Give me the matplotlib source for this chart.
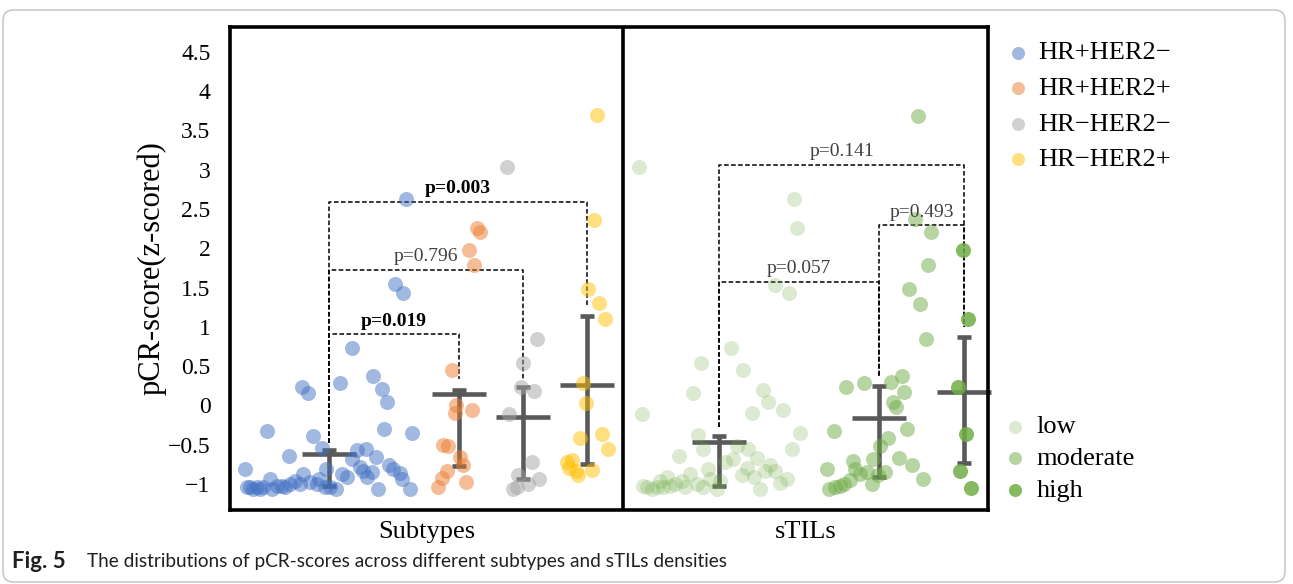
import matplotlib
matplotlib.use('Agg')
import matplotlib.pyplot as plt
from matplotlib.patches import FancyBboxPatch

plt.rcParams['font.family'] = ['Liberation Serif', 'DejaVu Serif']

# ---- subtype groups (jittered x, pCR-score) ----
her2neg_hrpos_x = [0.15, 0.37, 0.59, 0.72, 0.78, 0.83, 0.92, 1.10, 1.22, 1.43, 1.52, 1.57, 1.54, 1.82,
                   1.46, 1.36, 1.27, 1.22, 1.30, 1.33, 1.42, 1.59, 1.63, 1.70, 1.72, 1.80, 1.48, 1.37,
                   1.17, 1.12, 1.06, 0.96, 0.95, 0.87, 0.80, 0.73, 0.65, 0.60, 0.70, 0.52, 0.47, 0.40,
                   0.42, 0.33, 0.27, 0.20, 0.17, 0.23, 0.30, 0.55, 1.00, 0.89, 1.76, 1.65, 1.73]
her2neg_hrpos_y = [-0.81, -0.33, -0.64, 0.23, 0.16, -0.39, -0.54, 0.29, 0.73, 0.38, 0.21, 0.05, -0.30, -0.35,
                   -0.66, -0.56, -0.57, -0.68, -0.78, -0.83, -0.85, -0.76, -0.81, -0.86, -0.93, -1.06, -1.06, -0.91,
                   -0.91, -0.87, -1.06, -0.81, -1.04, -1.00, -0.98, -0.87, -0.96, -1.00, -1.00, -1.02, -1.02, -0.93,
                   -1.06, -1.04, -1.04, -1.04, -1.04, -1.06, -1.06, -1.04, -1.04, -0.93, 2.62, 1.54, 1.43]

her2pos_hrpos_x = [2.47, 2.50, 2.39, 2.44, 2.22, 2.26, 2.42, 2.25, 2.13, 2.18, 2.30, 2.33, 2.17, 2.12, 2.08, 2.36]
her2pos_hrpos_y = [2.26, 2.20, 1.98, 1.79, 0.45, 0.01, -0.06, -0.10, -0.50, -0.52, -0.65, -0.76, -0.84, -0.92, -1.04, -0.98]

her2neg_hrneg_x = [2.77, 3.07, 2.93, 2.91, 3.04, 2.79, 3.02, 2.88, 3.09, 2.98, 2.83, 2.87]
her2neg_hrneg_y = [3.03, 0.84, 0.54, 0.23, 0.18, -0.11, -0.72, -0.89, -0.93, -1.00, -1.06, -1.04]

her2pos_hrneg_x = [3.67, 3.64, 3.58, 3.69, 3.75, 3.53, 3.56, 3.50, 3.72, 3.78, 3.37, 3.42, 3.39, 3.46, 3.48, 3.62]
her2pos_hrneg_y = [3.69, 2.36, 1.48, 1.30, 1.10, 0.29, 0.03, -0.42, -0.36, -0.55, -0.72, -0.70, -0.79, -0.83, -0.89, -0.82]

# ---- sTILs density groups ----
til_low_x = [4.09, 5.64, 5.67, 5.45, 5.59, 5.01, 4.71, 5.13, 4.63, 5.33, 5.38, 5.22, 5.53, 4.12, 5.70, 5.62,
             4.68, 4.49, 4.73, 5.07, 4.95, 5.03, 5.18, 5.27, 5.17, 5.12, 5.40, 5.35, 5.45, 4.78, 5.24, 5.57,
             5.50, 5.30, 4.80, 4.73, 4.87, 4.60, 4.55, 4.67, 4.52, 4.45, 4.37, 4.40, 4.30, 4.33, 4.27, 4.22,
             4.17, 4.13, 4.90]
til_low_y = [3.03, 2.62, 2.26, 1.53, 1.43, 0.73, 0.54, 0.45, 0.16, 0.20, 0.05, -0.10, -0.06, -0.11, -0.35, -0.56,
             -0.37, -0.64, -0.56, -0.52, -0.72, -0.68, -0.56, -0.67, -0.79, -0.89, -0.76, -0.83, -0.84, -0.81, -0.91, -0.93,
             -0.99, -1.06, -0.93, -1.04, -1.06, -0.87, -1.04, -1.00, -0.96, -1.00, -0.91, -1.02, -0.96, -1.04, -1.04, -1.06,
             -1.04, -1.02, -0.96]

til_mod_x = [6.88, 6.85, 7.01, 6.98, 6.79, 6.90, 6.96, 6.72, 6.61, 6.74, 6.34, 6.16, 6.63, 6.66, 6.77, 6.04,
             6.58, 6.50, 6.69, 6.82, 6.93, 6.43, 6.23, 6.25, 6.30, 6.37, 6.42, 6.55, 6.48, 5.97, 6.20, 6.14,
             6.10, 6.05, 5.99]
til_mod_y = [3.68, 2.37, 2.20, 1.78, 1.48, 1.29, 0.84, 0.38, 0.30, 0.17, 0.29, 0.24, 0.04, -0.02, -0.30, -0.33,
             -0.42, -0.51, -0.67, -0.76, -0.93, -0.68, -0.71, -0.81, -0.87, -0.85, -1.00, -0.85, -0.89, -0.81, -0.95, -1.00,
             -1.02, -1.04, -1.06]

til_high_x = [7.33, 7.38, 7.28, 7.36, 7.30, 7.41]
til_high_y = [1.98, 1.10, 0.23, -0.36, -0.84, -1.05]

subtype_labels = ['HR+HER2\u2212', 'HR+HER2+', 'HR\u2212HER2\u2212', 'HR\u2212HER2+']
subtype_colors = ['#4472C4', '#ED7D31', '#A5A5A5', '#FFC000']
til_labels = ['low', 'moderate', 'high']
til_alphas = [0.25, 0.5, 0.85]

# group summary: centre line and whisker ends
summary_x = [0.99, 2.29, 2.93, 3.57, 4.89, 6.49, 7.34]
summary_mid = [-0.615, 0.14, -0.145, 0.255, -0.47, -0.157, 0.17]
summary_lo = [-1.03, -0.77, -0.93, -0.75, -1.03, -0.91, -0.73]
summary_hi = [-0.573, 0.20, 0.23, 1.14, -0.39, 0.246, 0.87]

# significance brackets
br_x1 = [0.99, 0.99, 0.99, 4.89, 4.89, 6.49]
br_x2 = [2.29, 2.93, 3.57, 7.34, 6.49, 7.34]
br_top = [0.905, 1.72, 2.59, 3.06, 1.57, 2.29]
br_end1 = [-0.48, -0.48, -0.48, -0.28, -0.28, 0.38]
br_end2 = [0.33, 0.33, 1.26, 1.00, 0.38, 1.00]
br_text = ['p=0.019', 'p=0.796', 'p=0.003', 'p=0.141', 'p=0.057', 'p=0.493']
br_bold = [True, False, True, False, False, False]

fig = plt.figure(figsize=(12.93, 5.84), dpi=100)
ax = fig.add_axes([230 / 1293, 1 - 510 / 584, 758 / 1293, 483.5 / 584])

sz = 117
sub_x = [her2neg_hrpos_x, her2pos_hrpos_x, her2neg_hrneg_x, her2pos_hrneg_x]
sub_y = [her2neg_hrpos_y, her2pos_hrpos_y, her2neg_hrneg_y, her2pos_hrneg_y]
sub_handles = []
for xs, ys, c, lab in zip(sub_x, sub_y, subtype_colors, subtype_labels):
    h = ax.scatter(xs, ys, s=sz, color=c, alpha=0.5, linewidths=0, zorder=3, label=lab)
    sub_handles.append(h)

til_x = [til_low_x, til_mod_x, til_high_x]
til_y = [til_low_y, til_mod_y, til_high_y]
til_handles = []
for xs, ys, a, lab in zip(til_x, til_y, til_alphas, til_labels):
    h = ax.scatter(xs, ys, s=sz, color='#70AD47', alpha=a, linewidths=0, zorder=3, label=lab)
    til_handles.append(h)

# whiskers + centre bars
for x, m, lo, hi in zip(summary_x, summary_mid, summary_lo, summary_hi):
    ax.errorbar([x], [m], yerr=[[m - lo], [hi - m]], fmt='none', ecolor='#595959',
                elinewidth=3.3, capsize=5, capthick=3.3, zorder=2)
    ax.plot([x - 0.27, x + 0.27], [m, m], color='#595959', lw=3.3, zorder=2,
            solid_capstyle='butt', clip_on=False)

# brackets
for x1, x2, top, e1, e2, txt, bold in zip(br_x1, br_x2, br_top, br_end1, br_end2, br_text, br_bold):
    ax.plot([x1, x1, x2, x2], [e1, top, top, e2], color='black', lw=1.1,
            linestyle=(0, (3, 1.6)), zorder=1)
    ax.text((x1 + x2) / 2, top + 0.06, txt, ha='center', va='bottom', fontsize=14,
            fontweight='bold' if bold else 'normal',
            color='black' if bold else '#404040', zorder=4)

ax.axvline(3.93, color='black', lw=2.6, zorder=5)
ax.set_xlim(0, 7.58)
ax.set_ylim(-1.33, 4.82)
ax.set_xticks([])
ax.set_yticks([-1, -0.5, 0, 0.5, 1, 1.5, 2, 2.5, 3, 3.5, 4, 4.5])
ax.set_yticklabels(['\u22121', '\u22120.5', '0', '0.5', '1', '1.5', '2', '2.5', '3', '3.5', '4', '4.5'])
ax.tick_params(axis='y', length=0, pad=14, labelsize=17)
for sp in ax.spines.values():
    sp.set_linewidth(2.6)
ax.set_ylabel('pCR-score(z-scored)', fontsize=22, labelpad=1)

xt = ax.get_xaxis_transform()
ax.text(1.965, -0.045, 'Subtypes', transform=xt, ha='center', va='center', fontsize=19)
ax.text(5.755, -0.045, 'sTILs', transform=xt, ha='center', va='center', fontsize=19)

leg1 = fig.legend(handles=sub_handles, loc='upper left', bbox_to_anchor=(1005 / 1293, 1 - 41 / 584),
                  frameon=False, fontsize=19, markerscale=0.87, handlelength=1.0,
                  handletextpad=0.25, labelspacing=0.46, borderpad=0, borderaxespad=0)
leg2 = fig.legend(handles=til_handles, loc='upper left', bbox_to_anchor=(1002 / 1293, 1 - 415 / 584),
                  frameon=False, fontsize=19, markerscale=0.87, handlelength=1.0,
                  handletextpad=0.3, labelspacing=0.32, borderpad=0, borderaxespad=0)

fig.text(12 / 1293, 1 - 562 / 584, 'Fig. 5', family='Lato', fontweight='bold', fontsize=16,
         va='center', color='#231F20')
fig.text(87 / 1293, 1 - 562 / 584,
         'The distributions of pCR-scores across different subtypes and sTILs densities',
         family='Lato', fontsize=13.7, va='center', color='#231F20')

frame = FancyBboxPatch((3 / 1293, 2 / 584), 1282 / 1293, 572 / 584, transform=fig.transFigure,
                       boxstyle='round,pad=0,rounding_size=0.008', mutation_aspect=1293 / 584,
                       facecolor='none', edgecolor='#BFBFBF', lw=1)
fig.patches.append(frame)

fig.savefig('out.png', dpi=100)
